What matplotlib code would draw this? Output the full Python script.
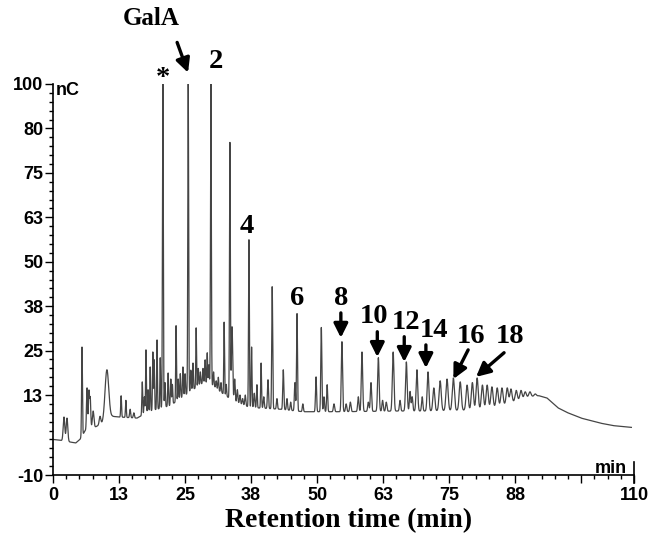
import numpy as np
import matplotlib
matplotlib.use("Agg")
import matplotlib.pyplot as plt
from matplotlib.ticker import FixedLocator, MultipleLocator
from matplotlib.transforms import blended_transform_factory

# ---------------- data ----------------
# baseline knots of the chromatogram (min, nC)
base_t = [0, 1.7, 4.3, 5.1, 6.1, 8.0, 9.3, 11.2, 12.7, 15.9, 18.4, 22.2, 26.0, 28.5,
          30.5, 31.6, 33.0, 34.5, 37.3, 43.0, 47.3, 54.4, 65.7, 71.0, 80.0, 84.0,
          86.0, 88.0, 90.0, 92.0, 93.5, 95.6, 97.3, 100.0, 103.6, 106.0, 109.5]
base_v = [0, -0.3, -1.0, 0.0, 2.5, 3.5, 4.5, 6.5, 6.3, 6.0, 8.0, 9.5, 13.5, 16.0,
          15.0, 13.5, 12.0, 10.5, 9.0, 8.5, 7.8, 7.8, 8.0, 8.0, 8.3, 9.2,
          10.0, 11.0, 12.0, 12.3, 11.7, 8.9, 7.6, 6.0, 4.6, 3.9, 3.4]

# peaks: retention time (min), apex value (nC), width (sigma, min)
peak_t = [2.08, 2.65, 5.49, 6.44, 6.8, 7.05, 7.6, 8.9, 10.2, 12.9, 13.8, 14.6, 15.3,
          16.9, 17.3, 17.6, 18.0, 18.4, 18.9, 19.15, 19.7, 20.3, 20.8, 21.2, 21.8,
          22.3, 22.6, 23.3, 23.7, 24.1, 24.6, 25.0, 25.6, 26.1, 26.5, 27.1, 27.5,
          27.9, 28.4, 28.8, 29.2, 29.5, 29.9, 30.4, 30.9, 31.3, 31.8, 32.4, 32.8,
          33.5, 33.9, 34.4, 34.9, 35.4, 35.9, 36.4, 37.1, 37.6, 38.1, 38.6, 39.4,
          39.9, 40.7, 41.5, 42.4, 43.6, 44.3, 45.0, 45.8, 46.2, 47.3, 49.8, 50.8,
          51.3, 51.9, 53.2, 54.7, 55.5, 56.3, 57.8, 58.5, 59.7, 60.2, 61.6, 62.4,
          63.1, 64.4, 65.7, 66.9, 67.6, 68.0, 68.9, 69.9, 71.0, 72.1, 73.3, 74.6,
          75.8, 77.1, 78.4, 79.4, 80.3, 81.3, 82.2, 83.1, 84.1, 85.0, 86.0, 86.7,
          87.7, 88.6, 89.4, 90.3, 91.3]
peak_v = [6.3, 6.0, 26.0, 14.5, 13.5, 11.5, 8.0, 6.5, 19.6, 12.3, 11.0, 8.5, 7.5,
          16.2, 12.0, 25.2, 14.0, 20.4, 24.6, 22.4, 28.0, 23.0, 100, 16.0, 18.7,
          17.0, 15.5, 32.0, 17.0, 18.5, 20.4, 18.5, 100, 19.5, 21.5, 31.4, 20.0,
          19.0, 20.0, 22.4, 24.4, 21.0, 100, 19.0, 16.5, 17.5, 16.0, 33.0, 15.5,
          83.5, 31.7, 17.0, 14.0, 12.5, 11.5, 12.5, 56.2, 26.0, 13.0, 15.4, 21.5,
          12.0, 16.8, 43.0, 11.5, 19.6, 11.5, 10.5, 16.0, 35.4, 10.0, 17.6, 31.5,
          12.0, 15.4, 10.0, 27.5, 10.0, 10.5, 12.0, 24.6, 10.5, 16.0, 23.0, 11.0,
          10.5, 24.6, 11.0, 21.8, 13.5, 12.0, 19.6, 12.0, 19.0, 14.5, 16.5, 17.0,
          17.3, 16.2, 15.3, 16.0, 17.3, 15.3, 15.3, 14.8, 14.5, 14.5, 14.5, 14.2,
          13.8, 13.8, 13.4, 13.4, 12.8]
peak_w = [0.15, 0.15, 0.08, 0.1, 0.1, 0.1, 0.15, 0.15, 0.35, 0.08, 0.08, 0.1, 0.1,
          0.08, 0.08, 0.07, 0.08, 0.07, 0.07, 0.07, 0.07, 0.07, 0.08, 0.08, 0.08,
          0.08, 0.08, 0.07, 0.08, 0.08, 0.08, 0.08, 0.08, 0.08, 0.08, 0.07, 0.08,
          0.08, 0.08, 0.08, 0.07, 0.08, 0.08, 0.08, 0.08, 0.08, 0.08, 0.07, 0.08,
          0.08, 0.12, 0.1, 0.1, 0.1, 0.1, 0.1, 0.08, 0.08, 0.1, 0.08, 0.08,
          0.1, 0.1, 0.09, 0.1, 0.1, 0.1, 0.1, 0.1, 0.09, 0.1, 0.1, 0.1,
          0.1, 0.1, 0.12, 0.12, 0.12, 0.12, 0.12, 0.13, 0.12, 0.12, 0.14, 0.12,
          0.12, 0.15, 0.12, 0.15, 0.12, 0.12, 0.15, 0.12, 0.16, 0.18, 0.2, 0.2,
          0.2, 0.2, 0.2, 0.2, 0.2, 0.2, 0.2, 0.2, 0.2, 0.2, 0.2, 0.2,
          0.2, 0.2, 0.2, 0.2, 0.2]

x_ticks = [0, 12.5, 25, 37.5, 50, 62.5, 75, 87.5, 100, 110]
x_ticklabels = ["0", "13", "25", "38", "50", "63", "75", "88", "", "110"]
y_ticks = [-10, 12.5, 25, 37.5, 50, 62.5, 75, 87.5, 100]
y_ticklabels = ["-10", "13", "25", "38", "50", "63", "75", "80", "100"]

# annotation labels: text, text position (min, nC), arrow tail / tip or None
ann_text = ["GalA", "*", "2", "4", "6", "8", "10", "12", "14", "16", "18"]
ann_xy = [(18.6, 118.5), (20.8, 101.5), (30.8, 106.3), (36.7, 59.9), (46.2, 39.6),
          (54.5, 39.6), (60.8, 34.5), (66.9, 32.8), (72.2, 30.6), (79.2, 28.9), (86.6, 28.9)]
arrow_from = [(23.5, 111.7), None, None, None, None, (54.5, 35.6), (61.4, 30.3),
              (66.5, 28.9), (70.6, 26.6), (78.6, 25.2), (85.4, 24.4)]
arrow_to = [(25.57, 103.2), None, None, None, None, (54.5, 28.6), (61.4, 23.2),
            (66.5, 21.8), (70.6, 20.1), (75.8, 17.0), (80.1, 17.6)]

# ---------------- build trace ----------------
t = np.linspace(0, 109.5, 22000)
base = np.interp(t, base_t, base_v)
signal = base.copy()
for pt, pv, pw in zip(peak_t, peak_v, peak_w):
    h = pv - np.interp(pt, base_t, base_v)
    signal += h * np.exp(-0.5 * ((t - pt) / pw) ** 2)
signal = np.minimum(signal, 100)

# ---------------- figure ----------------
fig = plt.figure(figsize=(6.49, 5.35), dpi=100)
ax = fig.add_axes([53 / 649, 60 / 535, 581 / 649, 391 / 535])
ax.plot(t, signal, color="#454545", lw=0.9)

ax.set_xlim(0, 110)
ax.set_ylim(-10, 100)
for s in ("top", "right"):
    ax.spines[s].set_visible(False)
for s in ("left", "bottom"):
    ax.spines[s].set_linewidth(1.2)

ax.xaxis.set_major_locator(FixedLocator(x_ticks))
ax.set_xticklabels(x_ticklabels)
ax.xaxis.set_minor_locator(MultipleLocator(2.5))
ax.yaxis.set_major_locator(FixedLocator(y_ticks))
ax.set_yticklabels(y_ticklabels)
ax.yaxis.set_minor_locator(MultipleLocator(2.5))

tick_font = dict(family="Liberation Sans", weight="bold", size=13)
for lab in ax.get_xticklabels() + ax.get_yticklabels():
    lab.set_fontfamily("Liberation Sans")
    lab.set_fontweight("bold")
    lab.set_fontsize(13)
ax.tick_params(axis="both", which="major", length=6, width=1.0, direction="out", color="black")
ax.tick_params(axis="both", which="minor", length=3, width=1.0, direction="out", color="black")
ax.tick_params(axis="x", which="major", pad=3)
ax.tick_params(axis="y", which="major", pad=1)

# end marker of the time axis
trans = blended_transform_factory(ax.transData, ax.transAxes)
ax.plot([110, 110], [-0.02, 0.033], transform=trans, color="black", lw=1.2, clip_on=False)

ax.text(0.6, 98.3, "nC", ha="left", va="center", **tick_font)
ax.text(108.7, -9.3, "min", ha="right", va="baseline", **tick_font)

ax.set_xlabel("Retention time (min)", family="Liberation Serif", weight="bold", size=20)
ax.xaxis.set_label_coords(0.508, -0.085)

serif = dict(family="Liberation Serif", weight="bold")
for txt, xy, a0, a1 in zip(ann_text, ann_xy, arrow_from, arrow_to):
    size = 18 if txt == "GalA" else 20.5
    ax.text(xy[0], xy[1], txt, ha="center", va="center", size=size, clip_on=False, **serif)
    if a0 is not None:
        ax.annotate("", xy=a1, xytext=a0, annotation_clip=False,
                    arrowprops=dict(arrowstyle="-|>,head_length=0.7,head_width=0.35",
                                    lw=2.4, color="black", mutation_scale=12,
                                    shrinkA=0, shrinkB=0))

fig.savefig("out.png", dpi=100)
